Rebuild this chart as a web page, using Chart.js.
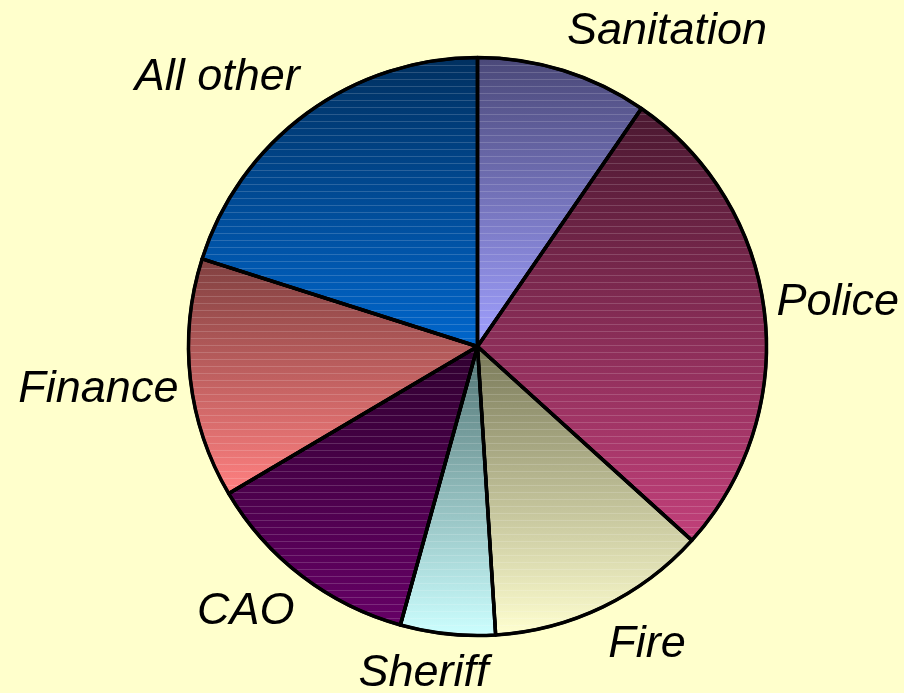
<!DOCTYPE html>
<html>
<head>
<meta charset="utf-8">
<script src="https://cdn.jsdelivr.net/npm/chart.js@4/dist/chart.umd.min.js"></script>
<style>
  html, body { margin: 0; padding: 0; background: #ffffcc; }
  #wrap { width: 904px; height: 693px; }
</style>
</head>
<body>
<div id="wrap"><canvas id="graficoPizza"></canvas></div>
<script>
// dados da figura
const categorias = ['Sanitation', 'Police', 'Fire', 'Sheriff', 'CAO', 'Finance', 'All other'];
const valores = [9.6, 27.1, 12.3, 5.3, 12.2, 13.4, 20.1];
// cor do topo e da base de cada fatia (gradiente vertical)
const coresTopo = ['#4a4878', '#4a1830', '#787858', '#507272', '#300030', '#804040', '#003060'];
const coresBase = ['#a0a0ff', '#c2407a', '#ffffd0', '#ccffff', '#660066', '#ff8080', '#0066cc'];

// limites verticais de uma fatia (para o gradiente)
function limitesY(arc) {
    const { y, startAngle, endAngle, outerRadius } = arc.getProps(['y', 'startAngle', 'endAngle', 'outerRadius']);
    let ys = [y, y + outerRadius * Math.sin(startAngle), y + outerRadius * Math.sin(endAngle)];
    // verifica se topo (-90°) ou base (90°) estão dentro do arco
    [-Math.PI / 2, Math.PI / 2, 3 * Math.PI / 2].forEach(a => {
        if (a > startAngle && a < endAngle) ys.push(y + outerRadius * Math.sin(a));
    });
    return [Math.min(...ys), Math.max(...ys)];
}

const pluginGradiente = {
    id: 'gradiente',
    beforeDatasetsDraw(chart) {
        const ctx = chart.ctx;
        chart.getDatasetMeta(0).data.forEach((arc, i) => {
            const [y0, y1] = limitesY(arc);
            const g = ctx.createLinearGradient(0, y0, 0, y1);
            g.addColorStop(0, coresTopo[i]);
            g.addColorStop(1, coresBase[i]);
            arc.options.backgroundColor = g;
        });
    },
    afterDatasetsDraw(chart) {
        // listras horizontais claras sobre a pizza
        const ctx = chart.ctx;
        const { x, y, outerRadius } = chart.getDatasetMeta(0).data[0];
        ctx.save();
        ctx.beginPath();
        ctx.arc(x, y, outerRadius - 2, 0, Math.PI * 2);
        ctx.clip();
        ctx.strokeStyle = 'rgba(255, 255, 255, 0.16)';
        ctx.lineWidth = 1;
        for (let yy = y - outerRadius; yy < y + outerRadius; yy += 7) {
            ctx.beginPath();
            ctx.moveTo(x - outerRadius, Math.round(yy) + 0.5);
            ctx.lineTo(x + outerRadius, Math.round(yy) + 0.5);
            ctx.stroke();
        }
        ctx.restore();
        // redesenha as bordas por cima das listras
        chart.getDatasetMeta(0).data.forEach(arc => {
            ctx.save();
            ctx.strokeStyle = '#000';
            ctx.lineWidth = 3.5;
            ctx.lineJoin = 'round';
            ctx.beginPath();
            ctx.moveTo(arc.x, arc.y);
            ctx.arc(arc.x, arc.y, arc.outerRadius, arc.startAngle, arc.endAngle);
            ctx.closePath();
            ctx.stroke();
            ctx.restore();
        });
    }
};

const pluginRotulos = {
    id: 'rotulos',
    afterDraw(chart) {
        const ctx = chart.ctx;
        ctx.save();
        ctx.font = 'italic 45px "Liberation Sans", Arial, sans-serif';
        ctx.fillStyle = '#000';
        ctx.textAlign = 'center';
        ctx.textBaseline = 'middle';
        const clamp = v => Math.max(-1, Math.min(1, v));
        chart.getDatasetMeta(0).data.forEach((arc, i) => {
            const meio = (arc.startAngle + arc.endAngle) / 2;
            const ax = arc.x + (arc.outerRadius + 12) * Math.cos(meio);
            const ay = arc.y + (arc.outerRadius + 20) * Math.sin(meio);
            const w = ctx.measureText(categorias[i]).width;
            const h = 40;
            const cx = ax + (w / 2) * clamp(Math.cos(meio) * 3.4);
            const cy = ay + (h / 2) * clamp(Math.sin(meio) * 3.4);
            ctx.fillText(categorias[i], cx, cy);
        });
        ctx.restore();
    }
};

new Chart(document.getElementById('graficoPizza'), {
    type: 'pie',
    data: {
        labels: categorias,
        datasets: [{
            data: valores,
            backgroundColor: coresBase,
            borderColor: '#000',
            borderWidth: 3,
            borderJoinStyle: 'round'
        }]
    },
    options: {
        responsive: true,
        maintainAspectRatio: false,
        animation: false,
        layout: {
            padding: { top: 56, bottom: 56, left: 187, right: 136 }
        },
        plugins: {
            legend: { display: false },
            tooltip: { enabled: false }
        }
    },
    plugins: [pluginGradiente, pluginRotulos]
});
</script>
</body>
</html>
